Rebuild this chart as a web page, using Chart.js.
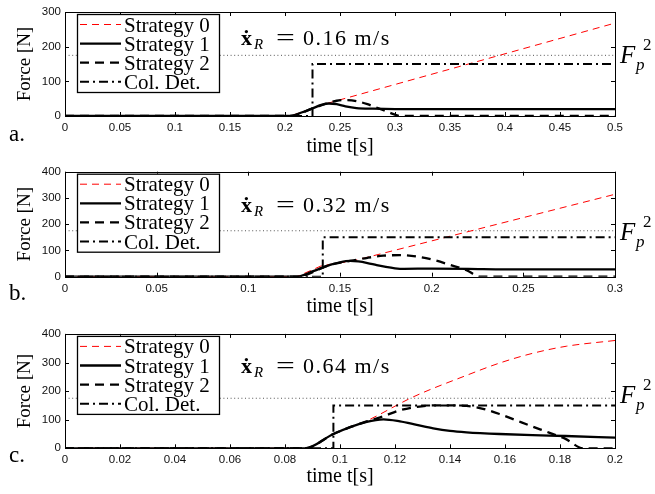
<!DOCTYPE html>
<html><head><meta charset="utf-8">
<script src="https://cdn.jsdelivr.net/npm/chart.js@4/dist/chart.umd.min.js"></script>
<style>
html,body{margin:0;padding:0;background:#fff;}
#wrap{position:relative;width:655px;height:494px;overflow:hidden;background:#fff;}
.p{position:absolute;left:0;width:655px;}
canvas{display:block;}
</style>
</head><body>
<div id="wrap">
  <div class="p" style="top:0px;height:160px"><canvas id="ca" width="655" height="160"></canvas></div>
  <div class="p" style="top:160px;height:163px"><canvas id="cb" width="655" height="163"></canvas></div>
  <div class="p" style="top:323px;height:171px"><canvas id="cc" width="655" height="171"></canvas></div>
</div>
<script>
// ---------- tick labels ----------
const xTicksA = [0, 0.05, 0.1, 0.15, 0.2, 0.25, 0.3, 0.35, 0.4, 0.45, 0.5];
const yTicksA = [0, 100, 200, 300];
const xTicksB = [0, 0.05, 0.1, 0.15, 0.2, 0.25, 0.3];
const yTicksB = [0, 100, 200, 300, 400];
const xTicksC = [0, 0.02, 0.04, 0.06, 0.08, 0.1, 0.12, 0.14, 0.16, 0.18, 0.2];
const yTicksC = [0, 100, 200, 300, 400];

const seriesNames = ['Strategy 0', 'Strategy 1', 'Strategy 2', 'Col. Det.'];
const panelLetters = ['a.', 'b.', 'c.'];
const speeds = ['0.16', '0.32', '0.64'];
const forceLimit = 175; // F_p^2

// ---------- panel a (x_R = 0.16 m/s) ----------
const tA_s0 = [0, 0.205, 0.225, 0.238, 0.5];
const fA_s0 = [0, 0, 22, 36, 268];
const tA_s1 = [0, 0.205, 0.215, 0.225, 0.233, 0.24, 0.247, 0.255, 0.265, 0.28, 0.3, 0.5];
const fA_s1 = [0, 0, 10, 22, 32, 36, 34, 28, 23, 21, 20, 20];
const tA_s2 = [0, 0.205, 0.225, 0.238, 0.247, 0.256, 0.265, 0.275, 0.285, 0.295, 0.305, 0.5];
const fA_s2 = [0, 0, 22, 36, 44, 46, 43, 34, 22, 10, 0, 0];
const tA_cd = [0, 0.225, 0.225, 0.5];
const fA_cd = [0, 0, 150, 150];

// ---------- panel b (x_R = 0.32 m/s) ----------
const tB_s0 = [0, 0.1264, 0.14, 0.157, 0.3];
const fB_s0 = [0, 0, 42, 60, 314];
const tB_s1 = [0, 0.1264, 0.135, 0.1445, 0.15, 0.1555, 0.16, 0.165, 0.17, 0.175, 0.18, 0.185, 0.2, 0.22, 0.24, 0.3];
const fB_s1 = [0, 0, 20, 45, 55, 60, 58, 52, 44, 37, 32, 30, 31, 30, 28, 28];
const tB_s2 = [0, 0.1264, 0.1445, 0.1555, 0.165, 0.1736, 0.1827, 0.1918, 0.2009, 0.21, 0.219, 0.2264, 0.3];
const fB_s2 = [0, 0, 45, 60, 72, 80, 82, 77, 64, 45, 25, 0, 0];
const tB_cd = [0, 0.1406, 0.1406, 0.3];
const fB_cd = [0, 0, 150, 150];

// ---------- panel c (x_R = 0.64 m/s) ----------
const tC_s0 = [0, 0.0873, 0.0976, 0.1097, 0.1267, 0.146, 0.158, 0.17, 0.1824, 0.2];
const fC_s0 = [0, 0, 50, 96, 180, 255, 298, 332, 357, 377];
const tC_s1 = [0, 0.0873, 0.0976, 0.1097, 0.1158, 0.1218, 0.1279, 0.1339, 0.14, 0.146, 0.158, 0.17, 0.182, 0.2];
const fC_s1 = [0, 0, 50, 92, 101, 94, 82, 70, 61, 56, 50, 46, 43, 37];
const tC_s2 = [0, 0.0873, 0.0976, 0.1097, 0.1158, 0.1218, 0.128, 0.134, 0.14, 0.146, 0.152, 0.158, 0.164, 0.17, 0.176, 0.182, 0.1885, 0.2];
const fC_s2 = [0, 0, 50, 94, 112, 133, 145, 150, 150, 148, 138, 120, 98, 76, 55, 33, 0, 0];
const tC_cd = [0, 0.0976, 0.0976, 0.2];
const fC_cd = [0, 0, 150, 150];

// ---------- helpers ----------
const pts = (t, f) => t.map((x, i) => ({x: x, y: f[i]}));
const SERIF = '"Liberation Serif", "DejaVu Serif", serif';

const styles = [
  {borderColor: '#ff0000', borderWidth: 1, borderDash: [7, 5], order: 3},
  {borderColor: '#000000', borderWidth: 2.3, borderDash: [], order: 0},
  {borderColor: '#000000', borderWidth: 2.3, borderDash: [9, 6], order: 2},
  {borderColor: '#000000', borderWidth: 2, borderDash: [9, 4, 2, 4], order: 1}
];

function decoPlugin(idx) {
  return {
    id: 'deco' + idx,
    afterDraw(chart) {
      const ctx = chart.ctx, ca = chart.chartArea;
      const xs = chart.scales.x, ys = chart.scales.y;
      ctx.save();
      // frame
      ctx.strokeStyle = '#000'; ctx.lineWidth = 1; ctx.setLineDash([]);
      ctx.strokeRect(Math.round(ca.left) + 0.5, Math.round(ca.top) + 0.5,
                     Math.round(ca.right - ca.left), Math.round(ca.bottom - ca.top));
      // inward ticks
      ctx.beginPath();
      xs.ticks.forEach(t => {
        const px = Math.round(xs.getPixelForValue(t.value)) + 0.5;
        ctx.moveTo(px, ca.bottom); ctx.lineTo(px, ca.bottom - 4);
        ctx.moveTo(px, ca.top); ctx.lineTo(px, ca.top + 4);
      });
      ys.ticks.forEach(t => {
        const py = Math.round(ys.getPixelForValue(t.value)) + 0.5;
        ctx.moveTo(ca.left, py); ctx.lineTo(ca.left + 4, py);
        ctx.moveTo(ca.right, py); ctx.lineTo(ca.right - 4, py);
      });
      ctx.stroke();

      // legend box
      const bx = ca.left + 12, by = ca.top + 2, bw = 142, bh = 78;
      ctx.fillStyle = '#fff';
      ctx.fillRect(bx, by, bw, bh);
      ctx.strokeStyle = '#000'; ctx.lineWidth = 1.3;
      ctx.strokeRect(bx + 0.5, by + 0.5, bw, bh);
      const legendSets = chart.data.datasets.filter(d => d.inLegend);
      legendSets.forEach((d, i) => {
        const cy = by + 10.5 + i * 19.1;
        ctx.beginPath();
        ctx.strokeStyle = d.borderColor;
        ctx.lineWidth = d.borderWidth;
        ctx.setLineDash(d.borderDash || []);
        ctx.moveTo(bx + 3, cy); ctx.lineTo(bx + 44, cy);
        ctx.stroke();
        ctx.setLineDash([]);
        ctx.fillStyle = '#000';
        ctx.font = '21px ' + SERIF;
        ctx.textAlign = 'left'; ctx.textBaseline = 'alphabetic';
        ctx.fillText(d.label, bx + 47, cy + 7);
      });

      // speed annotation
      const ax = 241, ay = [45, 52, 50][idx];
      ctx.fillStyle = '#000';
      ctx.textBaseline = 'alphabetic'; ctx.textAlign = 'left';
      ctx.font = 'bold 22px ' + SERIF;
      ctx.fillText('\u1E8B', ax, ay);
      ctx.font = 'italic 15px ' + SERIF;
      ctx.fillText('R', ax + 13, ay + 4);
      ctx.save();
      ctx.translate(ax + 35, ay);
      ctx.scale(1.45, 1);
      ctx.font = '23px ' + SERIF;
      ctx.fillText('=', 0, 0);
      ctx.restore();
      ctx.font = '22px ' + SERIF;
      if ('letterSpacing' in ctx) ctx.letterSpacing = '1.5px';
      ctx.fillText(speeds[idx] + ' m/s', ax + 62, ay);
      if ('letterSpacing' in ctx) ctx.letterSpacing = '0px';

      // F_p^2 label
      const fy = 63 + (idx === 0 ? 0 : 17);
      ctx.font = 'italic 25px ' + SERIF;
      ctx.fillText('F', 620, fy);
      ctx.font = 'italic 17px ' + SERIF;
      ctx.fillText('p', 636, fy + 7);
      ctx.font = '17px ' + SERIF;
      ctx.fillText('2', 643, fy - 13);

      // panel letter
      ctx.font = '23px ' + SERIF;
      ctx.fillText(panelLetters[idx], 9, [141, 140, 139][idx]);
      ctx.restore();
    }
  };
}

function makePanel(idx, canvasId, H, plotTop, plotBottom, xMax, yMax, xT, yT, series) {
  const datasets = series.map((s, i) => Object.assign({
    label: seriesNames[i],
    inLegend: true,
    data: pts(s[0], s[1]),
    pointRadius: 0,
    fill: false,
    cubicInterpolationMode: s[2] ? 'monotone' : 'default',
    tension: 0
  }, styles[i]));
  datasets.push({
    label: 'F_p^2',
    inLegend: false,
    data: pts([0, xMax], [forceLimit, forceLimit]),
    borderColor: '#555', borderWidth: 1, borderDash: [1, 2.6],
    pointRadius: 0, fill: false, order: 4
  });
  const titleBottom = (H - [147, 147, 154][idx]) - 10;
  return new Chart(document.getElementById(canvasId), {
    type: 'line',
    data: {datasets},
    options: {
      responsive: false, animation: false, events: [],
      layout: {padding: {top: plotTop, right: 40, bottom: 0, left: 0}},
      plugins: {legend: {display: false}, tooltip: {enabled: false}},
      scales: {
        x: {
          type: 'linear', min: 0, max: xMax,
          grid: {display: false, drawTicks: false, tickLength: 0}, border: {display: false},
          afterBuildTicks: s => { s.ticks = xT.map(v => ({value: v})); },
          afterFit: s => { s.height = H - plotBottom; },
          ticks: {color: '#111', font: {family: 'Liberation Sans', size: 11.5}, padding: 5,
                  maxRotation: 0, autoSkip: false, callback: v => String(v)},
          title: {display: true, text: 'time t[s]', color: '#000',
                  font: {family: SERIF, size: 20, lineHeight: 1}, padding: {top: 0, bottom: titleBottom}}
        },
        y: {
          type: 'linear', min: 0, max: yMax,
          grid: {display: false, drawTicks: false, tickLength: 0}, border: {display: false},
          afterBuildTicks: s => { s.ticks = yT.map(v => ({value: v})); },
          afterFit: s => { s.width = 65; },
          ticks: {color: '#111', font: {family: 'Liberation Sans', size: 11.5}, padding: 4,
                  autoSkip: false, callback: v => String(v)},
          title: {display: true, text: 'Force [N]', color: '#000',
                  font: {family: SERIF, size: 19}, padding: {top: 13.6, bottom: 0}}
        }
      }
    },
    plugins: [decoPlugin(idx)]
  });
}

makePanel(0, 'ca', 160, 12, 116, 0.5, 300, xTicksA, yTicksA, [
  [tA_s0, fA_s0, false], [tA_s1, fA_s1, true], [tA_s2, fA_s2, true], [tA_cd, fA_cd, false]
]);
makePanel(1, 'cb', 163, 11.7, 116.7, 0.3, 400, xTicksB, yTicksB, [
  [tB_s0, fB_s0, false], [tB_s1, fB_s1, true], [tB_s2, fB_s2, true], [tB_cd, fB_cd, false]
]);
makePanel(2, 'cc', 171, 10.3, 125.3, 0.2, 400, xTicksC, yTicksC, [
  [tC_s0, fC_s0, true], [tC_s1, fC_s1, true], [tC_s2, fC_s2, true], [tC_cd, fC_cd, false]
]);
</script>
</body></html>
